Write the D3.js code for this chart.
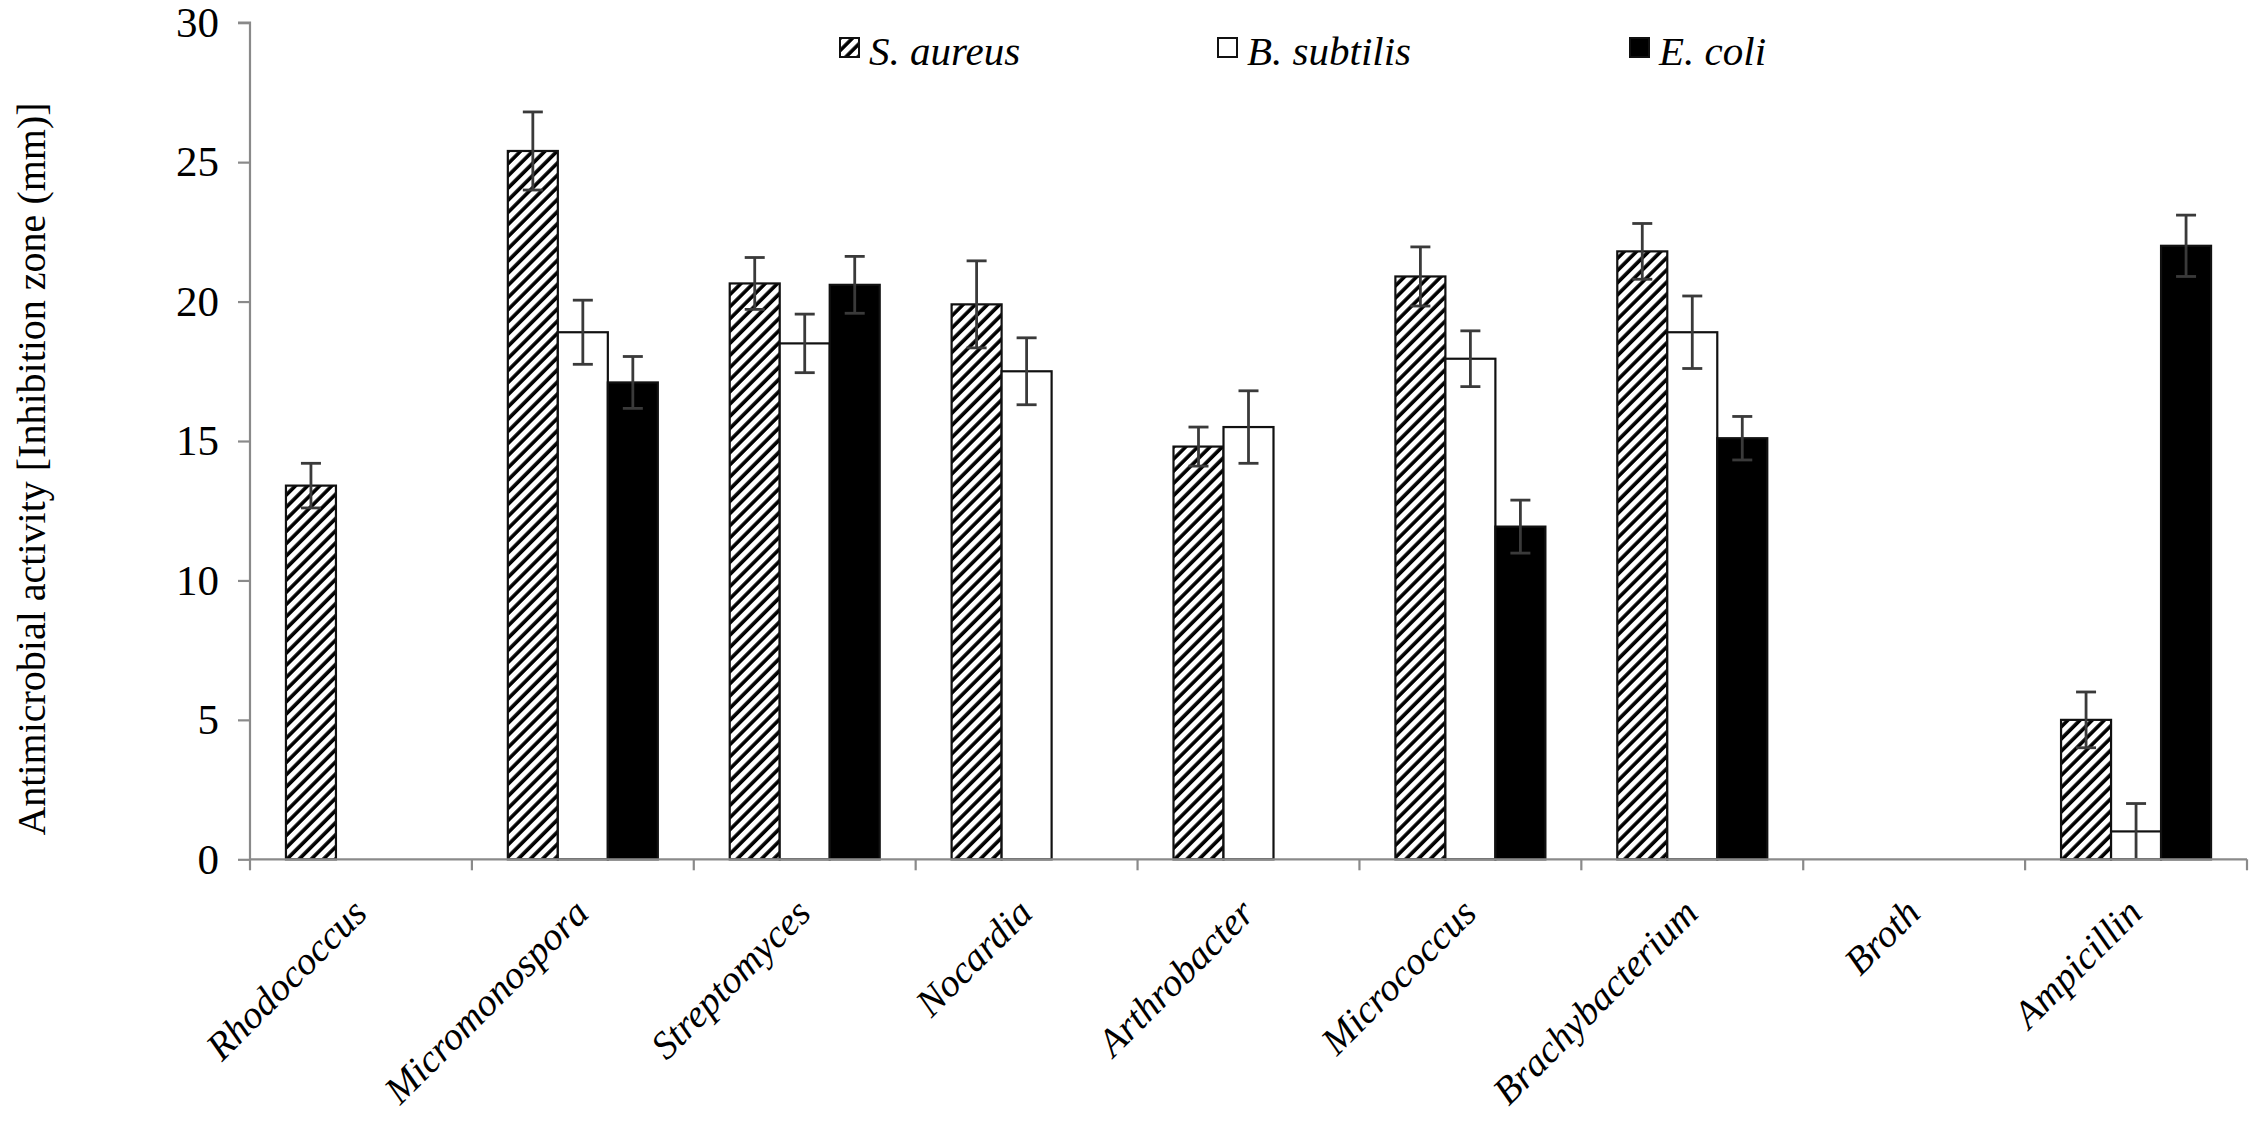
<!DOCTYPE html>
<html>
<head>
<meta charset="utf-8">
<script src="https://cdn.jsdelivr.net/npm/d3@7"></script>
<style>
  html, body { margin: 0; padding: 0; background: #fff; }
  svg { display: block; }
</style>
</head>
<body>
<svg id="chart" width="2256" height="1127"></svg>
<script>
// ---- data ----
const categories = ["Rhodococcus", "Micromonospora", "Streptomyces", "Nocardia", "Arthrobacter", "Micrococcus", "Brachybacterium", "Broth", "Ampicillin"];
const seriesNames = ["S. aureus", "B. subtilis", "E. coli"];
const sAureus     = [13.4, 25.4, 20.65, 19.9, 14.8, 20.9, 21.8, null, 5.0];
const sAureusErr  = [0.8, 1.4, 0.93, 1.56, 0.7, 1.06, 1.0, null, 1.0];
const bSubtilis    = [null, 18.9, 18.5, 17.5, 15.5, 17.95, 18.9, null, 1.0];
const bSubtilisErr = [null, 1.15, 1.05, 1.2, 1.3, 1.0, 1.3, null, 1.0];
const eColi    = [null, 17.1, 20.6, null, null, 11.93, 15.1, null, 22.0];
const eColiErr = [null, 0.93, 1.02, null, null, 0.95, 0.78, null, 1.1];
const yTicks = [0, 5, 10, 15, 20, 25, 30];
const yTitle = "Antimicrobial activity [Inhibition zone (mm)]";

const seriesValues = [sAureus, bSubtilis, eColi];
const seriesErrors = [sAureusErr, bSubtilisErr, eColiErr];

// ---- layout ----
const svg = d3.select("#chart");
const mLeft = 250, mRight = 2247, mTop = 22.7, mBottom = 859.3;
const serif = "'Liberation Serif', 'Times New Roman', serif";

const defs = svg.append("defs");
const pat = defs.append("pattern")
  .attr("id", "hatch")
  .attr("patternUnits", "userSpaceOnUse")
  .attr("width", 8.6).attr("height", 8.6)
  .attr("patternTransform", "rotate(45)");
pat.append("rect").attr("width", 8.6).attr("height", 8.6).attr("fill", "#fff");
pat.append("line").attr("x1", 2).attr("y1", 0).attr("x2", 2).attr("y2", 8.6)
  .attr("stroke", "#000").attr("stroke-width", 3.6);

const fills = ["url(#hatch)", "#fff", "#000"];

const x = d3.scaleBand().domain(categories).range([mLeft, mRight]).paddingInner(0).paddingOuter(0);
const barW = 50;
const nS = seriesNames.length;
const outerPad = (x.bandwidth() / barW - nS) / 2;
const xs = d3.scaleBand().domain(seriesNames).range([0, x.bandwidth()]).paddingInner(0).paddingOuter(outerPad);
const y = d3.scaleLinear().domain([0, 30]).range([mBottom, mTop]);

// ---- bars ----
const barData = [];
seriesNames.forEach((s, si) => {
  categories.forEach((c, ci) => {
    const v = seriesValues[si][ci];
    if (v != null) barData.push({ s, si, c, v, e: seriesErrors[si][ci] });
  });
});

svg.append("g").selectAll("rect").data(barData).join("rect")
  .attr("x", d => x(d.c) + xs(d.s))
  .attr("y", d => y(d.v))
  .attr("width", xs.bandwidth())
  .attr("height", d => y(0) - y(d.v))
  .attr("fill", d => fills[d.si])
  .attr("stroke", "#111")
  .attr("stroke-width", 2.2);

// ---- error bars ----
const eg = svg.append("g").attr("stroke", "#3a3a3a").attr("stroke-width", 2.8).attr("fill", "none");
barData.forEach(d => {
  const cx = x(d.c) + xs(d.s) + xs.bandwidth() / 2;
  const y1 = y(d.v + d.e), y2 = y(Math.max(0, d.v - d.e));
  eg.append("line").attr("x1", cx).attr("x2", cx).attr("y1", y1).attr("y2", y2);
  eg.append("line").attr("x1", cx - 10).attr("x2", cx + 10).attr("y1", y1).attr("y2", y1);
  if (d.v - d.e > 0) eg.append("line").attr("x1", cx - 10).attr("x2", cx + 10).attr("y1", y2).attr("y2", y2);
});

// ---- y axis ----
const yAxis = d3.axisLeft(y).tickValues(yTicks).tickSize(12).tickPadding(19).tickFormat(d3.format("d"));
const yg = svg.append("g").attr("transform", `translate(${mLeft},0)`).call(yAxis);
yg.attr("font-family", serif);
yg.select(".domain").attr("stroke", "#8a8a8a").attr("stroke-width", 2.2).attr("d", `M-12,${mTop}H0V${mBottom}`);
yg.selectAll(".tick line").attr("stroke", "#8a8a8a").attr("stroke-width", 2.2);
yg.selectAll(".tick text").style("font-family", serif).attr("font-size", 43).attr("fill", "#000");

// ---- x axis ----
const xg = svg.append("g");
xg.append("line").attr("x1", mLeft).attr("x2", mRight).attr("y1", mBottom).attr("y2", mBottom)
  .attr("stroke", "#8a8a8a").attr("stroke-width", 2.2);
const bounds = categories.map(c => x(c)).concat([mRight]);
xg.selectAll("line.tk").data(bounds).join("line").attr("class", "tk")
  .attr("x1", d => d).attr("x2", d => d).attr("y1", mBottom).attr("y2", mBottom + 11)
  .attr("stroke", "#8a8a8a").attr("stroke-width", 2.2);
xg.selectAll("text").data(categories).join("text")
  .attr("transform", c => `translate(${x(c) + x.bandwidth() / 2 + 8},${mBottom + 56}) rotate(-45)`)
  .attr("text-anchor", "end")
  .style("font-family", serif).style("font-style", "italic").attr("font-size", 39)
  .attr("fill", "#000")
  .text(c => c);

// ---- y title ----
svg.append("text")
  .attr("transform", `translate(45,469) rotate(-90)`)
  .attr("text-anchor", "middle")
  .style("font-family", serif).attr("font-size", 40).attr("fill", "#000")
  .text(yTitle);

// ---- legend ----
const legX = [840, 1218, 1630];
const lg = svg.append("g");
seriesNames.forEach((s, i) => {
  lg.append("rect").attr("x", legX[i]).attr("y", 38).attr("width", 19).attr("height", 19)
    .attr("fill", fills[i]).attr("stroke", "#111").attr("stroke-width", 2);
  lg.append("text").attr("x", legX[i] + 29).attr("y", 65)
    .style("font-family", serif).style("font-style", "italic").attr("font-size", 41).attr("fill", "#000")
    .text(s);
});
</script>
</body>
</html>
